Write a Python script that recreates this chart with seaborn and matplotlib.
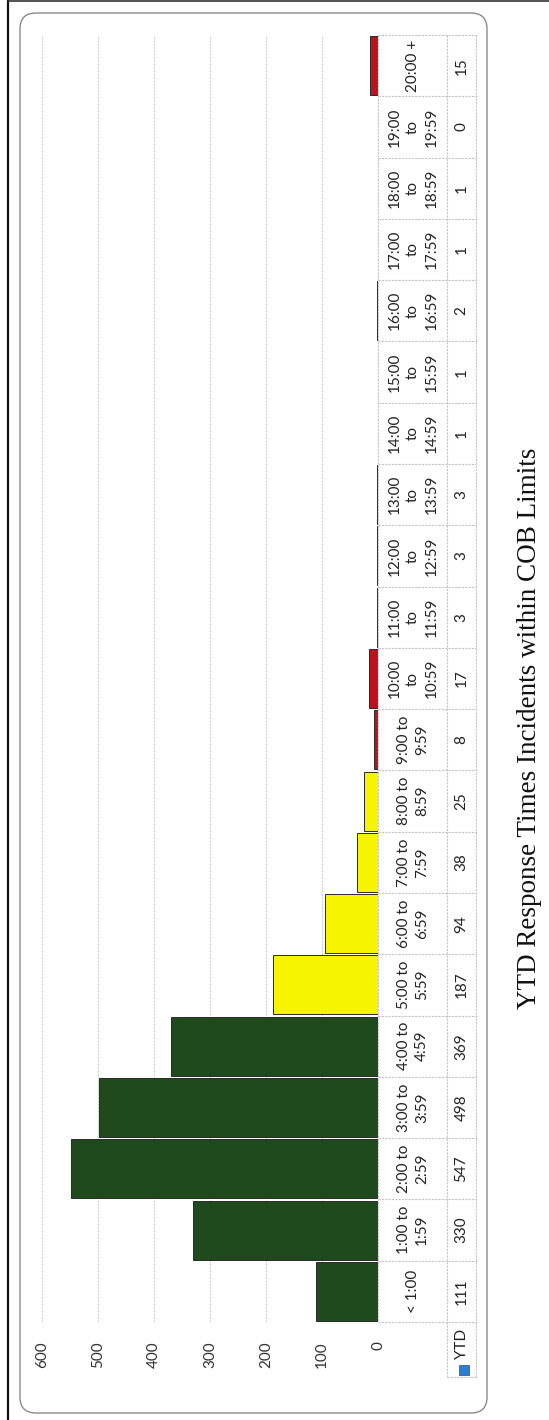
import numpy as np
import pandas as pd
import matplotlib
matplotlib.use("Agg")
import matplotlib.pyplot as plt
from matplotlib.patches import FancyBboxPatch, Rectangle
from matplotlib.lines import Line2D
import seaborn as sns

sns.set_style("white")
plt.rcParams["font.family"] = ["Lato", "DejaVu Sans"]

# response time bands (first = fastest)
categories = ["< 1:00", "1:00 to\n1:59", "2:00 to\n2:59", "3:00 to\n3:59", "4:00 to\n4:59",
              "5:00 to\n5:59", "6:00 to\n6:59", "7:00 to\n7:59", "8:00 to\n8:59", "9:00 to\n9:59",
              "10:00\nto\n10:59", "11:00\nto\n11:59", "12:00\nto\n12:59", "13:00\nto\n13:59",
              "14:00\nto\n14:59", "15:00\nto\n15:59", "16:00\nto\n16:59", "17:00\nto\n17:59",
              "18:00\nto\n18:59", "19:00\nto\n19:59", "20:00 +"]
ytd = [111, 330, 547, 498, 369, 187, 94, 38, 25, 8, 17, 3, 3, 3, 1, 1, 2, 1, 1, 0, 15]
status = ["within"] * 5 + ["warning"] * 4 + ["over"] * 12
series_name = "YTD"
title = "YTD Response Times Incidents within COB Limits"
value_ticks = [0, 100, 200, 300, 400, 500, 600]

palette = {"within": "#1e4a1e", "warning": "#f6f400", "over": "#c0121c"}

df = pd.DataFrame({"band": categories, "ytd": ytd, "status": status})
order = categories[::-1]  # slowest at the top of the page

W, H = 549, 1420
fig = plt.figure(figsize=(W / 100, H / 100), dpi=100)

# page border and rounded chart frame (in inches)
fig.add_artist(Line2D([0.08, 0.08], [0, H / 100], transform=fig.dpi_scale_trans, color="#111111", lw=1.6))
fig.add_artist(Line2D([0.08, W / 100], [14.19, 14.19], transform=fig.dpi_scale_trans, color="#333333", lw=1.2))
frame = FancyBboxPatch((0.20, 0.07), 4.67, 14.0, boxstyle="round,pad=0,rounding_size=0.16",
                       transform=fig.dpi_scale_trans, fill=False, edgecolor="#8a8a8a", lw=1.0)
fig.add_artist(frame)

ax_left, ax_right = 41.7, 378.2
ax_top, ax_bottom = 35, 1322
ax = fig.add_axes([ax_left / W, 1 - ax_bottom / H, (ax_right - ax_left) / W, (ax_bottom - ax_top) / H])

sns.barplot(data=df, x="ytd", y="band", hue="status", order=order, palette=palette,
            orient="h", dodge=False, width=0.965, saturation=1, errorbar=None,
            edgecolor="#2a2a2a", linewidth=0.7, legend=False, ax=ax)

ax.set_xlim(600, 0)
ax.set_ylim(len(categories) - 0.5, -0.5)
ax.set_xticks(value_ticks)
ax.set_xticklabels([str(v) for v in value_ticks], rotation=90, fontsize=11, color="#333333")
ax.tick_params(axis="x", length=0, pad=14)
ax.tick_params(axis="y", left=False, labelleft=False)
ax.set_xlabel("")
ax.set_ylabel("")
ax.xaxis.grid(True, color="#cfcfcf", lw=0.8, ls=(0, (2, 1)))
ax.yaxis.grid(False)
ax.set_axisbelow(True)
for s in ax.spines.values():
    s.set_visible(False)

# data table under the bars (to the right on the page)
trans = ax.get_yaxis_transform()
px = lambda x: (x - ax_left) / (ax_right - ax_left)
x_lab, x_mid, x_end = px(413), px(447), px(476)
x_val = px(461.5)
n = len(categories)
grid_kw = dict(transform=trans, clip_on=False, color="#c4c4c4", lw=0.8, ls=(0, (2, 1)))

for cat, v in zip(categories, ytd):
    pos = order.index(cat)
    ax.text(x_lab, pos, cat, rotation=90, ha="center", va="center", multialignment="center",
            fontsize=11, linespacing=1.4, color="#222222", transform=trans, clip_on=False)
    ax.text(x_val, pos, str(v), rotation=90, ha="center", va="center",
            fontsize=11, color="#222222", transform=trans, clip_on=False)

for b in np.arange(n + 1) - 0.5:
    ax.plot([1.0, x_end], [b, b], **grid_kw)
ax.plot([1.0, 1.0], [-0.5, n - 0.5], **grid_kw)
leg_bottom = n - 0.5 + 55 / ((ax_bottom - ax_top) / n)
ax.plot([x_mid, x_mid], [-0.5, leg_bottom], **grid_kw)
ax.plot([x_end, x_end], [-0.5, leg_bottom], **grid_kw)
ax.plot([x_mid, x_end], [leg_bottom, leg_bottom], **grid_kw)

# legend cell: blue key + series name
cell = (ax_bottom - ax_top) / n
ax.add_patch(Rectangle((px(459), n - 0.5 + 43 / cell), px(469) - px(459), 10 / cell,
                       transform=trans, clip_on=False, facecolor="#2a7fd4", edgecolor="#1a4f8a", lw=0.5))
ax.text(x_val, n - 0.5 + 22 / cell, series_name, rotation=90, ha="center", va="center",
        fontsize=11, color="#222222", transform=trans, clip_on=False)

fig.text(530 / W, 1 - 728 / H, title, rotation=90, ha="center", va="center",
         fontsize=19.5, family=["Liberation Serif", "DejaVu Serif"], color="#111111")

fig.savefig("out.png", dpi=100)
